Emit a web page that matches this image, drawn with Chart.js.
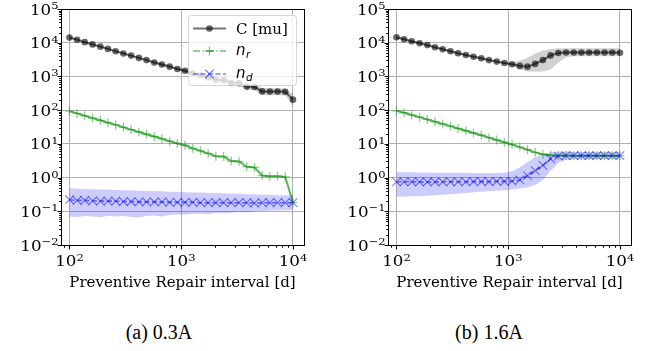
<!DOCTYPE html>
<html>
<head>
<meta charset="utf-8">
<script src="https://cdn.jsdelivr.net/npm/chart.js@4.4.1/dist/chart.umd.min.js"></script>
<style>
html, body { margin: 0; padding: 0; background: #fff; }
body { width: 652px; height: 351px; position: relative; overflow: hidden; }
.panel { position: absolute; top: 0; height: 300px; }
.cap { position: absolute; top: 321px; width: 200px; text-align: center; line-height: 23px;
       font-family: "Liberation Serif", "Times New Roman", serif; font-size: 20px; color: #000; }
</style>
</head>
<body>
<div class="panel" style="left:0;width:326px"><canvas id="chartA"></canvas></div>
<div class="panel" style="left:327px;width:325px"><canvas id="chartB"></canvas></div>
<div class="cap" style="left:59px">(a) 0.3A</div>
<div class="cap" style="left:389px">(b) 1.6A</div>
<script>
// preventive repair interval [d], 30 points on a log grid
const xDays = [100, 117, 137, 161, 189, 221, 259, 304, 356, 418, 489, 574, 672, 788, 924,
               1083, 1269, 1487, 1743, 2043, 2395, 2807, 3290, 3857, 4520, 5298, 6210, 7279, 8532, 10000];

// (a) 0.3A
const costA   = [14200, 12200, 10400, 8900, 7650, 6550, 5600, 4800, 4150, 3550, 3050, 2600, 2250, 1950, 1660,
                 1480, 1220, 1080, 930, 800, 780, 640, 630, 500, 490, 360, 355, 355, 350, 205];
const costAHi = [14700, 12600, 10800, 9250, 7950, 6800, 5850, 5000, 4350, 3750, 3250, 2780, 2420, 2100, 1800,
                 1650, 1370, 1230, 1070, 930, 910, 760, 740, 600, 590, 450, 445, 445, 440, 300];
const costALo = [13700, 11800, 10000, 8550, 7350, 6300, 5350, 4600, 3950, 3350, 2850, 2420, 2080, 1800, 1520,
                 1310, 1070, 930, 790, 670, 650, 520, 520, 400, 390, 280, 275, 275, 270, 140];
const nrA     = [93, 80, 68, 58, 50, 42.5, 36.5, 31, 26.5, 22.5, 19.3, 16.5, 14.1, 12, 10.3,
                 9.1, 7.3, 6.2, 5.2, 4.3, 4.2, 3.1, 3.0, 2.1, 2.0, 1.15, 1.1, 1.1, 1.05, 0.18];
const ndA     = [0.22, 0.21, 0.21, 0.205, 0.2, 0.2, 0.2, 0.195, 0.195, 0.19, 0.19, 0.19, 0.19, 0.185, 0.185,
                 0.185, 0.185, 0.18, 0.18, 0.18, 0.18, 0.18, 0.18, 0.18, 0.175, 0.18, 0.18, 0.18, 0.18, 0.18];
const ndAHi   = [0.48, 0.47, 0.46, 0.45, 0.44, 0.44, 0.43, 0.42, 0.42, 0.41, 0.40, 0.40, 0.39, 0.38, 0.38,
                 0.37, 0.36, 0.36, 0.35, 0.35, 0.34, 0.33, 0.33, 0.32, 0.32, 0.31, 0.31, 0.30, 0.30, 0.30];
const ndALo   = [0.07, 0.068, 0.072, 0.07, 0.066, 0.074, 0.07, 0.072, 0.068, 0.065, 0.072, 0.075, 0.07, 0.078, 0.08,
                 0.08, 0.083, 0.085, 0.082, 0.09, 0.088, 0.09, 0.095, 0.092, 0.1, 0.1, 0.105, 0.105, 0.11, 0.11];

// (b) 1.6A
const costB   = [14500, 12700, 11100, 9600, 8500, 7300, 6400, 5600, 4850, 4300, 3850, 3450, 3050, 2750, 2500,
                 2300, 2050, 1950, 2350, 3050, 4200, 4950, 5100, 5100, 5100, 5100, 5100, 5100, 5100, 5050];
const costBHi = [15400, 13500, 11800, 10200, 9000, 7750, 6800, 5950, 5150, 4560, 4080, 3660, 3240, 2920, 2660,
                 2600, 2900, 3600, 4800, 5900, 6500, 6800, 6800, 6800, 6800, 6800, 6800, 6800, 6800, 6800];
const costBLo = [13600, 11900, 10400, 9000, 8000, 6850, 6000, 5250, 4550, 4040, 3620, 3240, 2860, 2580, 2350,
                 2050, 1600, 1400, 1380, 1400, 1600, 2600, 3700, 4000, 4000, 4000, 4000, 4000, 4000, 4000];
const nrB     = [95, 84, 72, 62, 53, 45.5, 39, 33.5, 28.5, 24.5, 21, 18, 15.3, 13, 11.2,
                 9.5, 8.0, 6.7, 5.6, 4.9, 4.6, 4.5, 4.5, 4.45, 4.45, 4.5, 4.45, 4.45, 4.45, 4.45];
const ndB     = [0.75, 0.75, 0.75, 0.74, 0.74, 0.74, 0.75, 0.75, 0.75, 0.75, 0.76, 0.76, 0.76, 0.77, 0.77,
                 0.78, 0.85, 1.15, 1.6, 2.3, 3.6, 4.3, 4.45, 4.45, 4.45, 4.45, 4.45, 4.45, 4.45, 4.45];
const ndBHi   = [1.45, 1.45, 1.45, 1.42, 1.42, 1.4, 1.4, 1.4, 1.38, 1.38, 1.37, 1.37, 1.36, 1.36, 1.38,
                 1.55, 2.0, 2.9, 4.0, 5.0, 5.6, 5.8, 5.8, 5.7, 5.7, 5.7, 5.7, 5.7, 5.7, 5.7];
const ndBLo   = [0.27, 0.27, 0.28, 0.28, 0.29, 0.3, 0.31, 0.32, 0.33, 0.35, 0.37, 0.38, 0.4, 0.41, 0.42,
                 0.44, 0.48, 0.52, 0.6, 0.85, 1.6, 2.7, 3.4, 3.5, 3.5, 3.5, 3.5, 3.5, 3.5, 3.5];

// axes
const xMajor = [100, 1000, 10000];
const yMajor = [1e-2, 1e-1, 1e0, 1e1, 1e2, 1e3, 1e4, 1e5];
const xLimits = [84, 12550];
const yLimits = [1e-2, 1e5];
const xTitle = 'Preventive Repair interval [d]';
const legendLabels = ['C [mu]', 'n', 'n'];
const legendSubs = ['', 'r', 'd'];

const SERIF = '"DejaVu Serif", serif';
const GRID = 'rgb(176,176,176)';
const TICK_SX = 1.15; // tick labels in the reference are a bit wide

function minorsOf(majors, lo, hi) {
  const out = [];
  majors.forEach(m => { for (let k = 2; k <= 9; k++) out.push(m * k); });
  out.push(majors[0] / 10 * 9);
  return out.filter(v => v > lo && v < hi);
}
function isDecade(v) {
  const l = Math.log10(v);
  return Math.abs(l - Math.round(l)) < 1e-6;
}
function pts(ys) { return ys.map((y, i) => ({x: xDays[i], y})); }
function expText(v) { const e = Math.round(Math.log10(v)); return e < 0 ? '\u2212' + (-e) : String(e); }

function wideText(ctx, str, x, y, sx) {
  ctx.save();
  ctx.translate(x, y);
  ctx.scale(sx, 1);
  ctx.fillText(str, 0, 0);
  ctx.restore();
}

function tenPow(ctx, v, x, y, align) {
  ctx.font = '14.5px ' + SERIF;
  const wb = ctx.measureText('10').width * TICK_SX;
  const es = expText(v);
  ctx.font = '10px ' + SERIF;
  const we = ctx.measureText(es).width * TICK_SX;
  const left = align === 'center' ? x - (wb + we) / 2 : x - wb - we;
  ctx.textAlign = 'left';
  ctx.textBaseline = 'alphabetic';
  ctx.font = '14.5px ' + SERIF;
  wideText(ctx, '10', left, y, TICK_SX);
  ctx.font = '10px ' + SERIF;
  wideText(ctx, es, left + wb, y - 5.5, TICK_SX);
}

// spines, tick marks and 10^n tick labels
const axisDeco = {
  id: 'axisDeco',
  afterDraw(chart) {
    const {ctx, chartArea: a, scales: {x, y}} = chart;
    ctx.save();
    ctx.strokeStyle = '#000';
    ctx.lineWidth = 1;
    const L = Math.round(a.left) + 0.5, R = Math.round(a.right) + 0.5;
    const T = Math.round(a.top) + 0.5, B = Math.round(a.bottom) + 0.5;
    ctx.strokeRect(L, T, R - L, B - T);
    ctx.beginPath();
    x.ticks.forEach(t => {
      const px = Math.round(x.getPixelForValue(t.value)) + 0.5;
      ctx.moveTo(px, B); ctx.lineTo(px, B + (isDecade(t.value) ? 4 : 2.3));
    });
    y.ticks.forEach(t => {
      const py = Math.round(y.getPixelForValue(t.value)) + 0.5;
      ctx.moveTo(L, py); ctx.lineTo(L - (isDecade(t.value) ? 4 : 2.3), py);
    });
    ctx.stroke();
    ctx.fillStyle = '#000';
    xMajor.forEach(v => tenPow(ctx, v, x.getPixelForValue(v), B + 20.5, 'center'));
    yMajor.forEach(v => tenPow(ctx, v, L - 3, y.getPixelForValue(v) + 5.5, 'right'));
    ctx.restore();
  }
};

// matplotlib-like legend inside the left panel
const boxLegend = {
  id: 'boxLegend',
  afterDraw(chart) {
    const ctx = chart.ctx;
    ctx.save();
    const bx = 188.5, by = 15.5, bw = 108, bh = 70, r = 3;
    ctx.beginPath();
    ctx.moveTo(bx + r, by);
    ctx.arcTo(bx + bw, by, bx + bw, by + bh, r);
    ctx.arcTo(bx + bw, by + bh, bx, by + bh, r);
    ctx.arcTo(bx, by + bh, bx, by, r);
    ctx.arcTo(bx, by, bx + bw, by, r);
    ctx.closePath();
    ctx.fillStyle = 'rgba(255,255,255,0.8)';
    ctx.fill();
    ctx.strokeStyle = 'rgba(204,204,204,0.8)';
    ctx.lineWidth = 1;
    ctx.stroke();

    const rows = [28.5, 51, 74];
    const x0 = 193, x1 = 226, xm = 209.5;
    // C
    ctx.strokeStyle = 'rgba(0,0,0,0.55)'; ctx.lineWidth = 2; ctx.setLineDash([]);
    ctx.beginPath(); ctx.moveTo(x0, rows[0]); ctx.lineTo(x1, rows[0]); ctx.stroke();
    ctx.fillStyle = 'rgba(0,0,0,0.6)';
    ctx.beginPath(); ctx.arc(xm, rows[0], 3.3, 0, Math.PI * 2); ctx.fill();
    // n_r
    ctx.strokeStyle = 'rgba(0,128,0,0.55)'; ctx.lineWidth = 1.6; ctx.setLineDash([7, 2.5, 1.5, 2.5]);
    ctx.beginPath(); ctx.moveTo(x0, rows[1]); ctx.lineTo(x1, rows[1]); ctx.stroke();
    ctx.setLineDash([]); ctx.lineWidth = 1.3; ctx.strokeStyle = 'rgba(0,128,0,0.5)';
    ctx.beginPath(); ctx.moveTo(xm - 4.5, rows[1]); ctx.lineTo(xm + 4.5, rows[1]);
    ctx.moveTo(xm, rows[1] - 4.5); ctx.lineTo(xm, rows[1] + 4.5); ctx.stroke();
    // n_d
    ctx.strokeStyle = 'rgba(0,0,255,0.5)'; ctx.lineWidth = 1.6; ctx.setLineDash([5, 2.5]);
    ctx.beginPath(); ctx.moveTo(x0, rows[2]); ctx.lineTo(x1, rows[2]); ctx.stroke();
    ctx.setLineDash([]); ctx.lineWidth = 1.3;
    ctx.beginPath(); ctx.moveTo(xm - 4.2, rows[2] - 4.2); ctx.lineTo(xm + 4.2, rows[2] + 4.2);
    ctx.moveTo(xm - 4.2, rows[2] + 4.2); ctx.lineTo(xm + 4.2, rows[2] - 4.2); ctx.stroke();

    // labels
    ctx.fillStyle = '#000';
    ctx.textAlign = 'left'; ctx.textBaseline = 'alphabetic';
    ctx.font = '15px ' + SERIF;
    ctx.fillText(legendLabels[0], 236, rows[0] + 5.5);
    for (let i = 1; i < 3; i++) {
      ctx.font = 'italic 15px "DejaVu Sans", sans-serif';
      ctx.fillText(legendLabels[i], 236, rows[i] + 4);
      const w = ctx.measureText(legendLabels[i]).width;
      ctx.font = 'italic 10.5px "DejaVu Sans", sans-serif';
      ctx.fillText(legendSubs[i], 236 + w + 0.5, rows[i] + 7);
    }
    ctx.restore();
  }
};

function makeChart(id, s, padRight, extraPlugins) {
  const xMinor = minorsOf(xMajor, xLimits[0], xLimits[1]);
  const yMinor = minorsOf(yMajor, yLimits[0], yLimits[1]);
  return new Chart(document.getElementById(id), {
    type: 'line',
    data: {
      datasets: [
        { label: 'n_d', data: pts(s.nd), order: 0, borderColor: 'rgba(0,0,255,0.55)', borderWidth: 1.6,
          borderDash: [5, 2.5], pointStyle: 'crossRot', pointRadius: 6, pointBorderColor: 'rgba(0,0,255,0.5)',
          pointBorderWidth: 1.1, fill: false },
        { label: 'n_r', data: pts(s.nr), order: 1, borderColor: 'rgba(0,128,0,0.62)', borderWidth: 2,
          pointStyle: 'cross', pointRadius: 4.5, pointBorderColor: 'rgba(0,150,0,0.45)',
          pointBorderWidth: 1.3, fill: false },
        { label: 'C [mu]', data: pts(s.c), order: 2, borderColor: 'rgba(0,0,0,0.55)', borderWidth: 2,
          pointStyle: 'circle', pointRadius: 3.3, pointBackgroundColor: 'rgba(0,0,0,0.6)',
          pointBorderWidth: 0, fill: false },
        { data: pts(s.cHi), order: 5, fill: '+1', backgroundColor: 'rgba(0,0,0,0.18)',
          borderColor: 'transparent', pointRadius: 0 },
        { data: pts(s.cLo), order: 5, fill: false, borderColor: 'transparent', pointRadius: 0 },
        { data: pts(s.ndHi), order: 6, fill: '+1', backgroundColor: 'rgba(0,0,255,0.2)',
          borderColor: 'transparent', pointRadius: 0 },
        { data: pts(s.ndLo), order: 6, fill: false, borderColor: 'transparent', pointRadius: 0 }
      ]
    },
    options: {
      responsive: true,
      maintainAspectRatio: false,
      animation: false,
      layout: { padding: { top: 9, right: padRight, left: 0, bottom: 0 } },
      plugins: { legend: { display: false }, tooltip: { enabled: false } },
      elements: { line: { tension: 0 } },
      scales: {
        x: {
          type: 'logarithmic', min: xLimits[0], max: xLimits[1],
          afterBuildTicks: sc => { sc.ticks = xMajor.concat(xMinor).sort((a, b) => a - b).map(v => ({value: v})); },
          afterFit: sc => { sc.height = 55; },
          ticks: { display: false, autoSkip: false },
          grid: { drawTicks: false, lineWidth: 1,
                  color: c => (c.tick && isDecade(c.tick.value)) ? GRID : 'transparent' },
          border: { display: false },
          title: { display: true, text: xTitle, color: '#000', font: { family: SERIF, size: 15 },
                   padding: { top: 0, bottom: 8 } }
        },
        y: {
          type: 'logarithmic', min: yLimits[0], max: yLimits[1],
          afterBuildTicks: sc => { sc.ticks = yMajor.concat(yMinor).sort((a, b) => a - b).map(v => ({value: v})); },
          afterFit: sc => { sc.width = 61; },
          ticks: { display: false, autoSkip: false },
          grid: { drawTicks: false, lineWidth: 1,
                  color: c => (c.tick && isDecade(c.tick.value)) ? GRID : 'transparent' },
          border: { display: false }
        }
      }
    },
    plugins: [axisDeco].concat(extraPlugins)
  });
}

makeChart('chartA', { c: costA, cHi: costAHi, cLo: costALo, nr: nrA, nd: ndA, ndHi: ndAHi, ndLo: ndALo }, 22, [boxLegend]);
makeChart('chartB', { c: costB, cHi: costBHi, cLo: costBLo, nr: nrB, nd: ndB, ndHi: ndBHi, ndLo: ndBLo }, 21, []);
</script>
</body>
</html>
